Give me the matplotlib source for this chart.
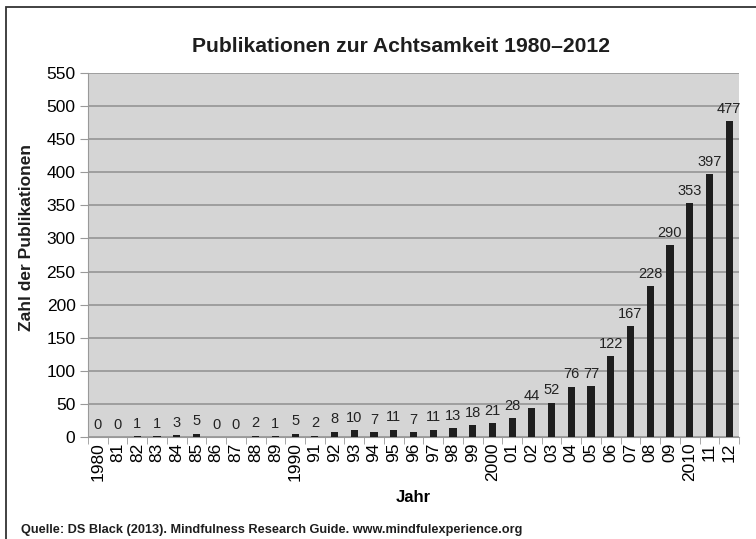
import numpy as np
import matplotlib.pyplot as plt
from matplotlib.patches import Rectangle

plt.rcParams['font.family'] = ['Liberation Sans', 'DejaVu Sans']

years = ['1980', '81', '82', '83', '84', '85', '86', '87', '88', '89',
         '1990', '91', '92', '93', '94', '95', '96', '97', '98', '99',
         '2000', '01', '02', '03', '04', '05', '06', '07', '08', '09',
         '2010', '11', '12']
counts = [0, 0, 1, 1, 3, 5, 0, 0, 2, 1,
          5, 2, 8, 10, 7, 11, 7, 11, 13, 18,
          21, 28, 44, 52, 76, 77, 122, 167, 228, 290,
          353, 397, 477]

fig = plt.figure(figsize=(7.56, 5.39), dpi=100)
ax = fig.add_axes([88 / 756, 1 - 437 / 539, (739 - 88) / 756, (437 - 73) / 539])

# outer frame (left and top edges visible)
fig.patches.append(Rectangle((6 / 756, -0.1), 1.2, 1 - 7 / 539 + 0.1,
                             transform=fig.transFigure, fill=False,
                             edgecolor='#333333', linewidth=1.3))

x = np.arange(len(years))
ax.set_facecolor('#d5d5d5')
ax.bar(x, counts, width=0.36, color='#1e1e1e', zorder=3)

for xi, v in zip(x, counts):
    ax.text(xi, v + 8, str(v), ha='center', va='bottom', fontsize=10.5,
            color='#222222', zorder=4)

ax.set_xlim(-0.5, len(years) - 0.5)
ax.set_ylim(0, 550)
ax.set_yticks(np.arange(0, 551, 50))
ax.yaxis.grid(True, color='#9a9a9a', linewidth=1.3, zorder=1)
ax.set_axisbelow(True)

ax.set_xticks(x)
ax.set_xticklabels(years, rotation=90, fontsize=12.5)
ax.set_xticks(np.arange(-0.5, len(years)), minor=True)
ax.tick_params(axis='x', which='major', length=0, pad=4)
ax.tick_params(axis='x', which='minor', length=5, color='#999999')
ax.tick_params(axis='y', labelsize=12.5, length=6, color='#999999', pad=3)

for s in ['top', 'right']:
    ax.spines[s].set_visible(False)
for s in ['left', 'bottom']:
    ax.spines[s].set_color('#999999')

ax.set_xlabel('Jahr', fontsize=12, fontweight='bold', labelpad=6)
fig.text(27 / 756, 1 - 238 / 539, 'Zahl der Publikationen', rotation=90,
         ha='center', va='center', fontsize=12.5, fontweight='bold', color='#1e1e1e')
fig.text(401 / 756, 1 - 46 / 539, 'Publikationen zur Achtsamkeit 1980–2012',
         ha='center', va='center', fontsize=15.2, fontweight='bold', color='#1e1e1e')
fig.text(21 / 756, 1 - 530 / 539,
         'Quelle: DS Black (2013). Mindfulness Research Guide. www.mindfulexperience.org',
         ha='left', va='center', fontsize=9.2, fontweight='bold', color='#1e1e1e')

fig.savefig('out.png', dpi=100)
